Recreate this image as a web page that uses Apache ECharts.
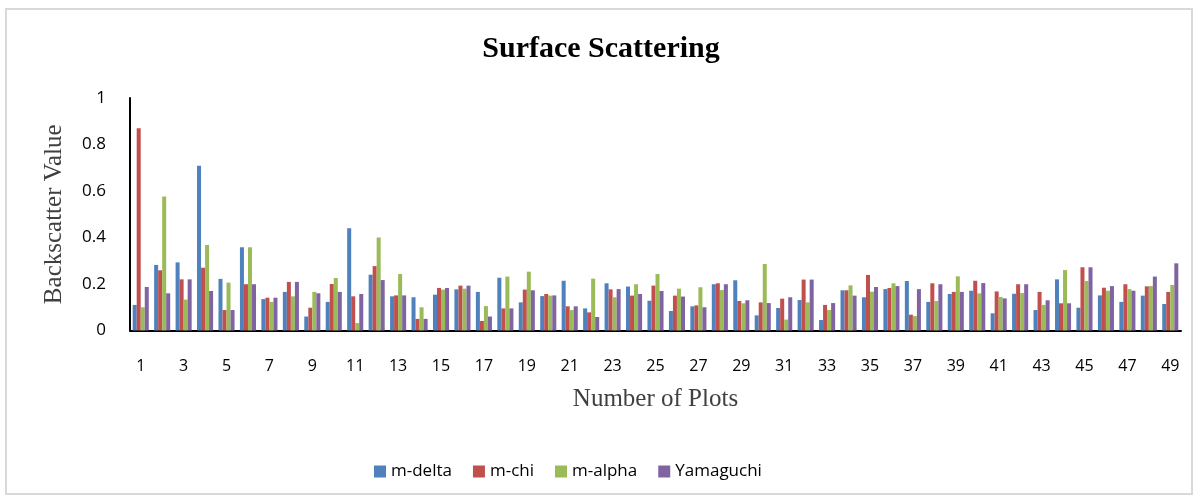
<!DOCTYPE html>
<html>
<head>
<meta charset="utf-8">
<script src="https://cdn.jsdelivr.net/npm/echarts@6/dist/echarts.min.js"></script>
<style>
  html, body { margin: 0; padding: 0; background: #fff; }
  #frame { position: absolute; left: 5px; top: 8px; width: 1188px; height: 487px; border: 2px solid #d9d9d9; box-sizing: border-box; }
  #chart { position: absolute; left: 0; top: 0; width: 1202px; height: 501px; }
</style>
</head>
<body>
<div id="frame"></div>
<div id="chart"></div>
<script>
// Plot numbers 1..49
const plots = [];
for (let i = 1; i <= 49; i++) plots.push(String(i));

const mDelta = [0.11,0.282,0.293,0.709,0.222,0.358,0.135,0.166,0.06,0.123,
                0.44,0.24,0.147,0.143,0.154,0.177,0.166,0.227,0.121,0.148,
                0.214,0.095,0.203,0.189,0.128,0.084,0.104,0.199,0.216,0.065,
                0.097,0.131,0.045,0.173,0.143,0.178,0.213,0.123,0.157,0.171,
                0.074,0.158,0.088,0.22,0.098,0.151,0.123,0.15,0.114];
const mChi = [0.87,0.259,0.22,0.27,0.088,0.199,0.141,0.209,0.098,0.2,
              0.147,0.277,0.151,0.05,0.183,0.193,0.041,0.095,0.176,0.157,
              0.104,0.078,0.177,0.15,0.193,0.15,0.108,0.203,0.127,0.121,
              0.137,0.219,0.11,0.173,0.239,0.183,0.068,0.203,0.166,0.214,
              0.168,0.199,0.166,0.117,0.272,0.184,0.199,0.19,0.166];
const mAlpha = [0.10,0.576,0.133,0.368,0.206,0.358,0.123,0.147,0.166,0.226,
                0.032,0.4,0.243,0.10,0.176,0.18,0.105,0.232,0.253,0.15,
                0.088,0.223,0.143,0.199,0.243,0.18,0.186,0.174,0.117,0.286,
                0.047,0.121,0.088,0.194,0.167,0.203,0.062,0.127,0.233,0.16,
                0.144,0.161,0.11,0.26,0.213,0.171,0.178,0.191,0.196];
const yamaguchi = [0.187,0.16,0.22,0.17,0.088,0.199,0.141,0.209,0.16,0.166,
                   0.157,0.217,0.151,0.05,0.183,0.193,0.06,0.095,0.173,0.151,
                   0.104,0.058,0.178,0.157,0.17,0.146,0.10,0.199,0.13,0.118,
                   0.143,0.219,0.118,0.15,0.187,0.191,0.178,0.199,0.166,0.204,
                   0.138,0.199,0.13,0.117,0.272,0.191,0.171,0.232,0.289];

const seriesNames = ['m-delta', 'm-chi', 'm-alpha', 'Yamaguchi'];
const seriesData = [mDelta, mChi, mAlpha, yamaguchi];
const colors = ['#4F81BD', '#C0504D', '#9BBB59', '#8064A2'];

const labelFont = '"Open Sans", "Liberation Sans", sans-serif';
const serifFont = '"Liberation Serif", "DejaVu Serif", serif';

const chart = echarts.init(document.getElementById('chart'));
chart.setOption({
  animation: false,
  color: colors,
  title: {
    text: 'Surface Scattering',
    left: 'center',
    top: 29,
    textStyle: { fontFamily: serifFont, fontWeight: 'bold', fontSize: 30, color: '#000' }
  },
  legend: {
    top: 458,
    left: 369,
    itemWidth: 12,
    itemHeight: 12,
    itemGap: 21,
    icon: 'rect',
    textStyle: { fontFamily: labelFont, fontSize: 17, color: '#000' },
    data: seriesNames
  },
  grid: { left: 130, right: 21, top: 98, bottom: 170.5, containLabel: false },
  xAxis: {
    type: 'category',
    data: plots,
    name: 'Number of Plots',
    nameLocation: 'middle',
    nameGap: 56,
    nameTextStyle: { fontFamily: serifFont, fontSize: 25, color: '#404040' },
    axisLine: { lineStyle: { color: '#000', width: 2 } },
    axisTick: { show: false },
    axisLabel: { interval: 1, margin: 28, fontFamily: labelFont, fontSize: 16, color: '#000' }
  },
  yAxis: {
    type: 'value',
    min: 0,
    max: 1,
    interval: 0.2,
    name: 'Backscatter Value',
    nameLocation: 'middle',
    nameGap: 63,
    nameTextStyle: { fontFamily: serifFont, fontSize: 25, color: '#404040' },
    axisLine: { show: true, lineStyle: { color: '#000', width: 2 } },
    axisTick: { show: false },
    splitLine: { show: false },
    axisLabel: { margin: 24, fontFamily: labelFont, fontSize: 17, color: '#000' }
  },
  series: seriesNames.map((name, i) => ({
    name: name,
    type: 'bar',
    data: seriesData[i],
    barGap: '0%',
    barCategoryGap: '25%'
  }))
});
</script>
</body>
</html>
